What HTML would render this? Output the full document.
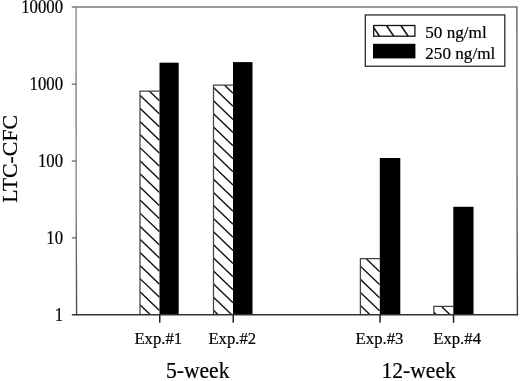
<!DOCTYPE html>
<html><head><meta charset="utf-8"><title>LTC-CFC chart</title>
<style>
html,body{margin:0;padding:0;background:#fff;}
body{width:520px;height:381px;overflow:hidden;}
svg{display:block;}
text{font-family:"Liberation Serif",serif;fill:#000;stroke:#000;stroke-width:0.2px;}
</style></head><body>
<svg width="520" height="381" viewBox="0 0 520 381">
<rect x="0" y="0" width="520" height="381" fill="#fff"/>
<defs>
<clipPath id="c0"><rect x="140.0" y="91.0" width="19.50" height="223.60"/></clipPath>
<clipPath id="c1"><rect x="213.5" y="85.0" width="19.50" height="229.60"/></clipPath>
<clipPath id="c2"><rect x="360.4" y="258.7" width="19.40" height="55.90"/></clipPath>
<clipPath id="c3"><rect x="433.8" y="306.4" width="19.50" height="8.20"/></clipPath>
<clipPath id="cl"><rect x="373.7" y="25.5" width="41.2" height="10.7"/></clipPath>
<linearGradient id="gl" gradientUnits="userSpaceOnUse" x1="0" y1="200" x2="0" y2="315"><stop offset="0" stop-color="#858585"/><stop offset="1" stop-color="#4a4a4a"/></linearGradient>
<linearGradient id="gr" gradientUnits="userSpaceOnUse" x1="0" y1="200" x2="0" y2="315"><stop offset="0" stop-color="#6a6a6a"/><stop offset="1" stop-color="#3a3a3a"/></linearGradient>
</defs>
<g clip-path="url(#c0)" stroke="#111" stroke-width="1.4">
<line x1="140.00" y1="16.65" x2="159.50" y2="35.37"/>
<line x1="140.00" y1="29.75" x2="159.50" y2="48.47"/>
<line x1="140.00" y1="42.85" x2="159.50" y2="61.57"/>
<line x1="140.00" y1="55.95" x2="159.50" y2="74.67"/>
<line x1="140.00" y1="69.05" x2="159.50" y2="87.77"/>
<line x1="140.00" y1="82.15" x2="159.50" y2="100.87"/>
<line x1="140.00" y1="95.25" x2="159.50" y2="113.97"/>
<line x1="140.00" y1="108.35" x2="159.50" y2="127.07"/>
<line x1="140.00" y1="121.45" x2="159.50" y2="140.17"/>
<line x1="140.00" y1="134.55" x2="159.50" y2="153.27"/>
<line x1="140.00" y1="147.65" x2="159.50" y2="166.37"/>
<line x1="140.00" y1="160.75" x2="159.50" y2="179.47"/>
<line x1="140.00" y1="173.85" x2="159.50" y2="192.57"/>
<line x1="140.00" y1="186.95" x2="159.50" y2="205.67"/>
<line x1="140.00" y1="200.05" x2="159.50" y2="218.77"/>
<line x1="140.00" y1="213.15" x2="159.50" y2="231.87"/>
<line x1="140.00" y1="226.25" x2="159.50" y2="244.97"/>
<line x1="140.00" y1="239.35" x2="159.50" y2="258.07"/>
<line x1="140.00" y1="252.45" x2="159.50" y2="271.17"/>
<line x1="140.00" y1="265.55" x2="159.50" y2="284.27"/>
<line x1="140.00" y1="278.65" x2="159.50" y2="297.37"/>
<line x1="140.00" y1="291.75" x2="159.50" y2="310.47"/>
<line x1="140.00" y1="304.85" x2="159.50" y2="323.57"/>
</g>
<path d="M140.0 314.6 L140.0 91.0 L159.5 91.0" fill="none" stroke="#444" stroke-width="1.25"/>
<rect x="159.5" y="62.7" width="19.20" height="251.90" fill="#000"/>
<g clip-path="url(#c1)" stroke="#111" stroke-width="1.4">
<line x1="213.50" y1="61.41" x2="233.00" y2="80.13"/>
<line x1="213.50" y1="74.51" x2="233.00" y2="93.23"/>
<line x1="213.50" y1="87.61" x2="233.00" y2="106.33"/>
<line x1="213.50" y1="100.71" x2="233.00" y2="119.43"/>
<line x1="213.50" y1="113.81" x2="233.00" y2="132.53"/>
<line x1="213.50" y1="126.91" x2="233.00" y2="145.63"/>
<line x1="213.50" y1="140.01" x2="233.00" y2="158.73"/>
<line x1="213.50" y1="153.11" x2="233.00" y2="171.83"/>
<line x1="213.50" y1="166.21" x2="233.00" y2="184.93"/>
<line x1="213.50" y1="179.31" x2="233.00" y2="198.03"/>
<line x1="213.50" y1="192.41" x2="233.00" y2="211.13"/>
<line x1="213.50" y1="205.51" x2="233.00" y2="224.23"/>
<line x1="213.50" y1="218.61" x2="233.00" y2="237.33"/>
<line x1="213.50" y1="231.71" x2="233.00" y2="250.43"/>
<line x1="213.50" y1="244.81" x2="233.00" y2="263.53"/>
<line x1="213.50" y1="257.91" x2="233.00" y2="276.63"/>
<line x1="213.50" y1="271.01" x2="233.00" y2="289.73"/>
<line x1="213.50" y1="284.11" x2="233.00" y2="302.83"/>
<line x1="213.50" y1="297.21" x2="233.00" y2="315.93"/>
<line x1="213.50" y1="310.31" x2="233.00" y2="329.03"/>
</g>
<path d="M213.5 314.6 L213.5 85.0 L233.0 85.0" fill="none" stroke="#444" stroke-width="1.25"/>
<rect x="233.0" y="62.1" width="19.50" height="252.50" fill="#000"/>
<g clip-path="url(#c2)" stroke="#111" stroke-width="1.4">
<line x1="360.40" y1="226.93" x2="379.80" y2="245.56"/>
<line x1="360.40" y1="240.03" x2="379.80" y2="258.66"/>
<line x1="360.40" y1="253.13" x2="379.80" y2="271.76"/>
<line x1="360.40" y1="266.23" x2="379.80" y2="284.86"/>
<line x1="360.40" y1="279.33" x2="379.80" y2="297.96"/>
<line x1="360.40" y1="292.43" x2="379.80" y2="311.06"/>
<line x1="360.40" y1="305.53" x2="379.80" y2="324.16"/>
</g>
<path d="M360.4 314.6 L360.4 258.7 L379.8 258.7" fill="none" stroke="#444" stroke-width="1.25"/>
<rect x="379.8" y="158.0" width="20.50" height="156.60" fill="#000"/>
<g clip-path="url(#c3)" stroke="#111" stroke-width="1.4">
<line x1="433.80" y1="272.90" x2="453.30" y2="291.62"/>
<line x1="433.80" y1="286.00" x2="453.30" y2="304.72"/>
<line x1="433.80" y1="299.10" x2="453.30" y2="317.82"/>
<line x1="433.80" y1="312.20" x2="453.30" y2="330.92"/>
</g>
<path d="M433.8 314.6 L433.8 306.4 L453.3 306.4" fill="none" stroke="#444" stroke-width="1.25"/>
<rect x="453.3" y="206.8" width="20.20" height="107.80" fill="#000"/>
<line x1="71.8" y1="7.05" x2="517.2" y2="7.05" stroke="#777" stroke-width="1.4"/>
<line x1="76.05" y1="6.4" x2="76.15" y2="200" stroke="#858585" stroke-width="1.4"/>
<line x1="76.15" y1="200" x2="76.6" y2="315.3" stroke="url(#gl)" stroke-width="1.4"/>
<line x1="516.9" y1="6.4" x2="517.05" y2="200" stroke="#6a6a6a" stroke-width="1.4"/>
<line x1="517.05" y1="200" x2="517.4" y2="315.3" stroke="url(#gr)" stroke-width="1.4"/>
<line x1="71.8" y1="314.8" x2="518.1" y2="314.8" stroke="#333" stroke-width="1.5"/>
<text transform="translate(63,320.65) scale(0.985,1.045)" font-size="17" text-anchor="end">1</text>
<line x1="71.8" y1="237.88" x2="76.3" y2="237.88" stroke="#666" stroke-width="1.3"/>
<text transform="translate(63,243.83) scale(0.985,1.045)" font-size="17" text-anchor="end">10</text>
<line x1="71.8" y1="161.05" x2="76.3" y2="161.05" stroke="#666" stroke-width="1.3"/>
<text transform="translate(63,167.00) scale(0.985,1.045)" font-size="17" text-anchor="end">100</text>
<line x1="71.8" y1="84.22" x2="76.3" y2="84.22" stroke="#666" stroke-width="1.3"/>
<text transform="translate(63,90.17) scale(0.985,1.045)" font-size="17" text-anchor="end">1000</text>
<text transform="translate(63,13.35) scale(0.985,1.045)" font-size="17" text-anchor="end">10000</text>
<line x1="159.75" y1="314.6" x2="159.75" y2="322.8" stroke="#222" stroke-width="1.5"/>
<line x1="233.25" y1="314.6" x2="233.25" y2="322.8" stroke="#222" stroke-width="1.5"/>
<line x1="380.05" y1="314.6" x2="380.05" y2="322.8" stroke="#222" stroke-width="1.5"/>
<line x1="453.55" y1="314.6" x2="453.55" y2="322.8" stroke="#222" stroke-width="1.5"/>
<text transform="translate(158.3,343.7) scale(1,1.035)" font-size="16.7" text-anchor="middle">Exp.#1</text>
<text transform="translate(232.3,343.7) scale(1,1.035)" font-size="16.7" text-anchor="middle">Exp.#2</text>
<text transform="translate(379.5,343.7) scale(1,1.035)" font-size="16.7" text-anchor="middle">Exp.#3</text>
<text transform="translate(457.1,343.7) scale(1,1.035)" font-size="16.7" text-anchor="middle">Exp.#4</text>
<text transform="translate(197.7,377.7) scale(1,1.06)" font-size="21.6" text-anchor="middle">5-week</text>
<text transform="translate(418.6,377.7) scale(1,1.06)" font-size="21.6" text-anchor="middle">12-week</text>
<text transform="translate(17.0,158.8) rotate(-90) scale(1.035,1)" font-size="21.1" text-anchor="middle">LTC-CFC</text>
<rect x="365.3" y="14.95" width="139.5" height="51.3" fill="#fff" stroke="#2a2a2a" stroke-width="1.3"/>
<g clip-path="url(#cl)" stroke="#111" stroke-width="1.5">
<line x1="372.20" y1="25.5" x2="379.50" y2="36.25"/>
<line x1="386.50" y1="25.5" x2="393.80" y2="36.25"/>
<line x1="400.90" y1="25.5" x2="408.20" y2="36.25"/>
</g>
<rect x="373.7" y="25.5" width="41.2" height="10.7" fill="none" stroke="#111" stroke-width="1.3"/>
<rect x="373.0" y="43.8" width="42.4" height="14.6" fill="#000"/>
<text transform="translate(425.3,37.6) scale(1,1.03)" font-size="17.15">50 ng/ml</text>
<text transform="translate(425.3,58.5) scale(1,1.03)" font-size="17.15">250 ng/ml</text>
</svg>
</body></html>
